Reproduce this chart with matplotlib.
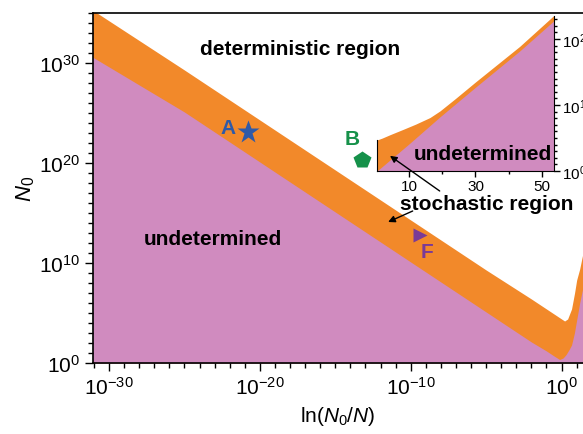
import numpy as np
import matplotlib
matplotlib.use('Agg')
import matplotlib.pyplot as plt
from matplotlib.ticker import FixedLocator, LogFormatterMathtext, NullFormatter

plt.rcParams['font.family'] = ['Liberation Sans', 'DejaVu Sans']
plt.rcParams['mathtext.fontset'] = 'custom'
plt.rcParams['mathtext.rm'] = 'Liberation Sans'
plt.rcParams['mathtext.it'] = 'Liberation Sans:italic'
plt.rcParams['mathtext.bf'] = 'Liberation Sans:bold'
plt.rcParams['axes.unicode_minus'] = False

# main panel boundaries (log10 x, log10 N0)
up_lx = np.array([-31.1, -25, -20, -15, -10, -5, -2, -1, -0.5, 0, 0.2, 0.4, 0.66, 0.86, 1.0, 1.2, 1.42])
up_ln = np.array([35.3, 29.3, 24.3, 19.3, 14.3, 9.3, 6.4, 5.4, 4.9, 4.4, 4.2, 4.4, 5.4, 7.0, 8.3, 9.4, 11.0])
lo_lx = np.array([-31.1, -25, -20, -15, -10, -5, -2, -1, -0.5, -0.13, 0.1, 0.3, 0.5, 0.66, 0.85, 1.0, 1.2, 1.42])
lo_ln = np.array([30.6, 25.1, 20.1, 15.1, 10.1, 5.1, 2.1, 1.2, 0.7, 0.35, 0.5, 0.85, 1.35, 1.8, 3.0, 4.3, 6.0, 7.6])

# inset boundaries (linear x, log10 N0)
in_x_up = np.array([0.4, 2, 4.3, 8.2, 12, 16.3, 19.3, 24, 30, 43.3, 53.6])
in_up = np.array([4.7, 5.0, 5.5, 6.3, 7.1, 8.1, 9.1, 11.0, 13.5, 18.9, 23.6])
in_x_lo = np.array([0.4, 10, 19.3, 30, 43.3, 53.6])
in_lo = np.array([0.0, 4.1, 8.2, 12.7, 18.2, 22.8])

# labelled points A, B, F
pt_names = ['A', 'B', 'F']
pt_lx = [-20.8, -13.2, -9.4]
pt_ln = [23.1, 20.3, 12.8]
lab_lx = [-22.1, -13.9, -8.9]
lab_ln = [23.5, 22.4, 11.1]
pt_marker = ['*', 'p', '>']
pt_size = [17, 13, 10]
pt_color = ['#2f5aa8', '#16914a', '#7a3a97']

orange = '#f2892a'
purple = '#d08bbf'

fig = plt.figure(figsize=(5.83, 4.35), dpi=100)
ax = fig.add_axes([93/583, 1-364/435, 490/583, 350/435])

ax.fill_between(10.0**up_lx, 1, 10.0**up_ln, color=orange, lw=0)
ax.fill_between(10.0**lo_lx, 1, 10.0**lo_ln, color=purple, lw=0)
ax.set_xscale('log')
ax.set_yscale('log')
ax.set_xlim(10**-31.06, 10**1.42)
ax.set_ylim(1, 1e35)

ax.xaxis.set_major_locator(FixedLocator([1e-30, 1e-20, 1e-10, 1e0]))
ax.xaxis.set_minor_locator(FixedLocator([10.0**k for k in range(-31, 2)]))
ax.yaxis.set_major_locator(FixedLocator([1e0, 1e10, 1e20, 1e30]))
ax.yaxis.set_minor_locator(FixedLocator([10.0**k for k in range(0, 36)]))
ax.xaxis.set_major_formatter(LogFormatterMathtext())
ax.yaxis.set_major_formatter(LogFormatterMathtext())
ax.xaxis.set_minor_formatter(NullFormatter())
ax.yaxis.set_minor_formatter(NullFormatter())
ax.tick_params(which='major', direction='out', length=6, width=1, labelsize=15)
ax.tick_params(which='minor', direction='out', length=3.5, width=1)
ax.spines['right'].set_visible(False)
for s in ['left', 'bottom', 'top']:
    ax.spines[s].set_linewidth(1.2)

ax.set_xlabel(r'ln($N_0$/$N$)', fontsize=15, labelpad=4)
ax.set_ylabel(r'$N_0$', fontsize=16, labelpad=1)

for i in range(3):
    ax.plot(10**pt_lx[i], 10**pt_ln[i], marker=pt_marker[i], ms=pt_size[i],
            color=pt_color[i], ls='none', mec='none')
    ax.text(10**lab_lx[i], 10**lab_ln[i], pt_names[i], color=pt_color[i],
            fontsize=15, fontweight='bold', ha='center', va='center')

ax.text(10**-17.35, 10**31.4, 'deterministic region', fontsize=15,
        fontweight='bold', ha='center', va='center')
ax.text(10**-23.1, 10**12.4, 'undetermined', fontsize=15,
        fontweight='bold', ha='center', va='center')
ax.text(10**-4.97, 10**15.9, 'stochastic region', fontsize=15,
        fontweight='bold', ha='center', va='center')

arrow = dict(arrowstyle='-|>', color='black', lw=1, mutation_scale=10,
             shrinkA=0, shrinkB=0)
ax.annotate('', xy=(10**-11.5, 10**14.1), xytext=(10**-9.87, 10**15.2),
            arrowprops=arrow)

# inset
ins = fig.add_axes([377/583, 1-172/435, 177/583, 155/435])
ins.set_facecolor('none')
ins.fill_between(in_x_up, 1, 10.0**in_up, color=orange, lw=0)
ins.fill_between(in_x_lo, 1, 10.0**in_lo, color=purple, lw=0)
ins.set_yscale('log')
ins.set_xlim(0.4, 53.6)
ins.set_ylim(1, 10**23.5)
ins.yaxis.tick_right()
ins.yaxis.set_major_locator(FixedLocator([1e0, 1e10, 1e20]))
ins.yaxis.set_minor_locator(FixedLocator([10.0**k for k in range(0, 24)]))
ins.yaxis.set_major_formatter(LogFormatterMathtext())
ins.yaxis.set_minor_formatter(NullFormatter())
ins.xaxis.set_major_locator(FixedLocator([10, 30, 50]))
ins.xaxis.set_minor_locator(FixedLocator([20, 40]))
ins.tick_params(which='major', direction='out', length=4, width=1, labelsize=11, pad=2)
ins.tick_params(which='minor', direction='out', length=2.5, width=1)
ins.spines['top'].set_visible(False)
ins.spines['left'].set_bounds(1, 10**in_up[0])
ins.text(32.2, 10**2.6, 'undetermined', fontsize=15, fontweight='bold',
         ha='center', va='center')
ins.annotate('', xy=(4.3, 10**2.3), xytext=(10**-8.08, 10**17.2),
             textcoords=ax.transData, arrowprops=arrow, annotation_clip=False)

fig.savefig('out.png', dpi=100)
